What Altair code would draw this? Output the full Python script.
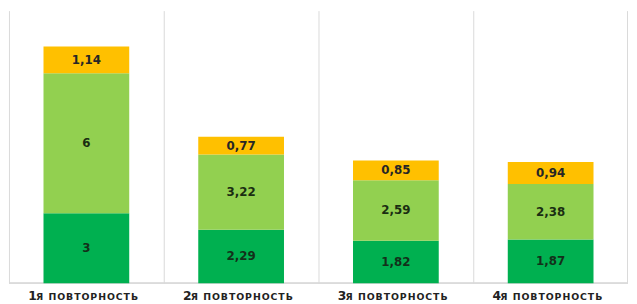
import altair as alt
import pandas as pd

categories = ["1я повторность", "2я повторность", "3я повторность", "4я повторность"]
digits = ["1", "2", "3", "4"]
rest = ["\u200aЯ\u200a \u200aП\u200aО\u200aВ\u200aТ\u200aО\u200aР\u200aН\u200aО\u200aС\u200aТ\u200aЬ"] * 4
series = ["s1", "s2", "s3"]
s1 = [3, 2.29, 1.82, 1.87]
s2 = [6, 3.22, 2.59, 2.38]
s3 = [1.14, 0.77, 0.85, 0.94]
colors = ["#00B050", "#92D050", "#FFC000"]
text_colors = ["#13301a", "#1a2e12", "#262626"]
grid_color = "#D9D9D9"

rows = []
for i, c in enumerate(categories):
    for j, (sname, vals) in enumerate(zip(series, [s1, s2, s3])):
        v = vals[i]
        lab = (f"{v:.2f}".rstrip("0").rstrip(".") if v != int(v) else str(int(v))).replace(".", ",")
        rows.append({"cat": c, "series": sname, "order": j, "value": v, "label": lab})
df = pd.DataFrame(rows)
lab_df = pd.DataFrame({"cat": categories, "digit": digits, "rest": rest})

W, H = 628, 276
P_IN = 0.446
xscale = alt.Scale(domain=categories, paddingInner=P_IN, paddingOuter=P_IN / 2)
yscale = alt.Scale(domain=[0, 11.66], nice=False)
half_gap = P_IN * (W / len(categories)) / 2

X = alt.X("cat:N", scale=xscale, sort=categories, axis=None)

base = alt.Chart(df).transform_stack(
    stack="value", groupby=["cat"], as_=["y0", "y1"], sort=[alt.SortField("order")]
).transform_calculate(mid="(datum.y0 + datum.y1) / 2")

vlines = alt.Chart(lab_df).mark_rule(color=grid_color, strokeWidth=1, xOffset=-half_gap + 0.5).encode(
    x=alt.X("cat:N", scale=xscale, sort=categories, axis=None, bandPosition=0),
    y=alt.value(0),
    y2=alt.value(H),
)
vend = alt.Chart(lab_df).transform_filter(
    alt.datum.cat == categories[-1]
).mark_rule(color=grid_color, strokeWidth=1, xOffset=half_gap - 0.5).encode(
    x=alt.X("cat:N", scale=xscale, sort=categories, axis=None, bandPosition=1),
    y=alt.value(0),
    y2=alt.value(H),
)
hline = alt.Chart(lab_df).mark_rule(color=grid_color, strokeWidth=1).encode(
    x=alt.value(0), x2=alt.value(W), y=alt.value(H),
)

bars = base.mark_bar().encode(
    x=X,
    y=alt.Y("y0:Q", scale=yscale, axis=None),
    y2="y1:Q",
    color=alt.Color("series:N", scale=alt.Scale(domain=series, range=colors), legend=None),
)

texts = base.mark_text(font="DejaVu Sans", fontWeight="bold", fontSize=12, baseline="middle").encode(
    x=X,
    y=alt.Y("mid:Q", scale=yscale, axis=None),
    text="label:N",
    color=alt.Color("series:N", scale=alt.Scale(domain=series, range=text_colors), legend=None),
)

dig = alt.Chart(lab_df).mark_text(font="DejaVu Sans", fontWeight="bold", fontSize=12.5,
                                   align="left", baseline="alphabetic", dx=-59, color="#222222").encode(
    x=X, y=alt.value(H + 17), text="digit:N",
)
rst = alt.Chart(lab_df).mark_text(font="DejaVu Sans", fontWeight="bold", fontSize=9.5,
                                   align="left", baseline="alphabetic", dx=-51, color="#222222").encode(
    x=X, y=alt.value(H + 17), text="rest:N",
)

chart = alt.layer(vlines, vend, hline, bars, texts, dig, rst).resolve_scale(color="independent").properties(
    width=W, height=H, padding=0, background="white"
).configure_view(stroke="transparent", strokeWidth=0)

chart.save("out.html", embed_options={"renderer": "svg", "actions": False})
